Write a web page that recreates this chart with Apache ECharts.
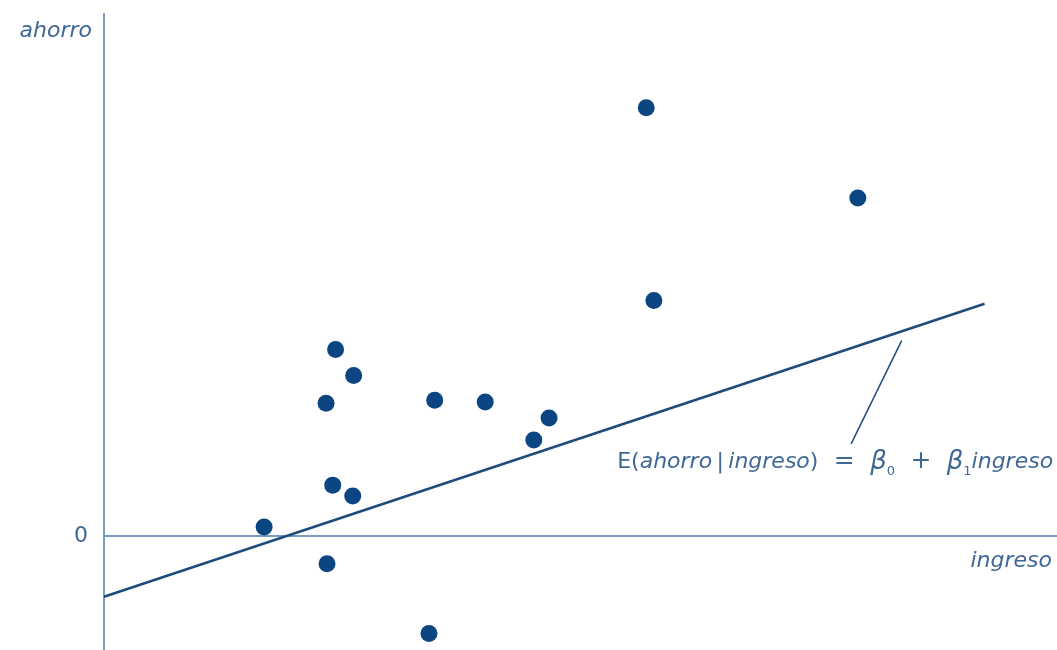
<!DOCTYPE html>
<html>
<head>
<meta charset="utf-8">
<script src="https://cdn.jsdelivr.net/npm/echarts@6/dist/echarts.min.js"></script>
<style>
  html, body { margin: 0; padding: 0; background: #ffffff; }
  #chart { width: 1057px; height: 650px; }
</style>
</head>
<body>
<div id="chart"></div>
<script>
// Observed (ingreso, ahorro) pairs
const ingreso = [16.8, 24.3, 26.2, 23.3, 24.0, 26.1, 23.4, 34.1, 34.7, 40.0, 46.7, 45.1, 56.9, 57.7, 79.1];
const ahorro  = [1.4, 29.4, 25.3, 20.9, 8.0, 6.3, -4.4, -15.4, 21.4, 21.1, 18.6, 15.1, 67.5, 37.1, 53.3];

// Population regression function E(ahorro|ingreso) = b0 + b1*ingreso
const beta0 = -9.6;
const beta1 = 0.5;
const lineRange = [0, 92.4];

// Pointer from the regression line to its equation
const pointerStart = [83.7, 30.8];
const pointerEnd = [78.4, 14.5];

// Axis extents and labels
const xRange = [0, 100];
const yRange = [-18, 82.3];
const yTickLabels = ['0'];
const axisNames = { x: 'ingreso', y: 'ahorro' };

const ink = '#0b4683';
const lineInk = '#1d4c7c';
const axisInk = '#7b9bbf';
const textInk = '#3f6894';
const font = '"DejaVu Sans", "Open Sans", sans-serif';

const points = ingreso.map((x, i) => [x, ahorro[i]]);
const regression = lineRange.map(x => [x, beta0 + beta1 * x]);

// wide gap around the relation and operator signs of the equation
const gap = '\u2002\u2009';

const chart = echarts.init(document.getElementById('chart'), null, { renderer: 'canvas' });

chart.setOption({
  backgroundColor: '#ffffff',
  animation: false,
  grid: { left: 104, right: 0, top: 14, bottom: -1 },
  xAxis: {
    type: 'value',
    min: xRange[0], max: xRange[1],
    splitLine: { show: false },
    axisTick: { show: false },
    axisLabel: { show: false },
    axisLine: { show: true, onZero: true, lineStyle: { color: axisInk, width: 2 } },
    name: axisNames.x,
    nameLocation: 'end',
    nameGap: -5,
    nameTextStyle: {
      fontFamily: font, fontStyle: 'italic', fontSize: 22, color: textInk,
      align: 'right', verticalAlign: 'top', padding: [14, 0, 0, 0]
    }
  },
  yAxis: {
    type: 'value',
    min: yRange[0], max: yRange[1], interval: 2,
    splitLine: { show: false },
    axisTick: { show: false },
    axisLine: { show: true, onZero: false, lineStyle: { color: axisInk, width: 2 } },
    axisLabel: {
      show: true,
      margin: 16,
      fontFamily: font, fontSize: 22, color: textInk,
      formatter: v => (Math.abs(v) < 1e-9 ? yTickLabels[0] : '')
    },
    name: axisNames.y,
    nameLocation: 'end',
    nameGap: -17,
    nameTextStyle: {
      fontFamily: font, fontStyle: 'italic', fontSize: 22, color: textInk,
      align: 'right', verticalAlign: 'middle', padding: [0, 12, 0, 0]
    }
  },
  series: [
    {
      name: 'regression',
      type: 'line',
      data: regression,
      symbol: 'none',
      lineStyle: { color: lineInk, width: 2.5 },
      z: 2
    },
    {
      name: 'pointer',
      type: 'line',
      data: [pointerStart, pointerEnd],
      symbol: 'none',
      lineStyle: { color: lineInk, width: 1.5 },
      z: 2
    },
    {
      name: 'equation',
      type: 'scatter',
      data: [pointerEnd],
      symbolSize: 0,
      silent: true,
      itemStyle: { opacity: 1 },
      label: {
        show: true,
        position: 'bottom',
        distance: 4,
        offset: [-16, 0],
        color: textInk,
        fontFamily: font,
        fontSize: 22,
        formatter: '{n|E(}{i|ahorro}{n|\u2009|\u2009}{i|ingreso}{n|)' + gap + '}{o|=}{n|' + gap + '}{b|\u03b2}{s|0}{n|' + gap + '}{o|+}{n|' + gap + '}{b|\u03b2}{s|1}{i|ingreso}',
        rich: {
          n: { fontFamily: font, fontSize: 22, color: textInk, lineHeight: 28 },
          o: { fontFamily: font, fontSize: 25, color: textInk, lineHeight: 28 },
          i: { fontFamily: font, fontSize: 22, fontStyle: 'italic', color: textInk, lineHeight: 28 },
          b: { fontFamily: font, fontSize: 26, fontStyle: 'italic', color: textInk, lineHeight: 28 },
          s: { fontFamily: font, fontSize: 13, color: textInk, lineHeight: 13, verticalAlign: 'bottom', padding: [0, 0, -2, 0] }
        }
      },
      z: 3
    },
    {
      name: 'observations',
      type: 'scatter',
      data: points,
      symbol: 'circle',
      symbolSize: 17,
      itemStyle: { color: ink, opacity: 1 },
      z: 4
    }
  ]
});
</script>
</body>
</html>
